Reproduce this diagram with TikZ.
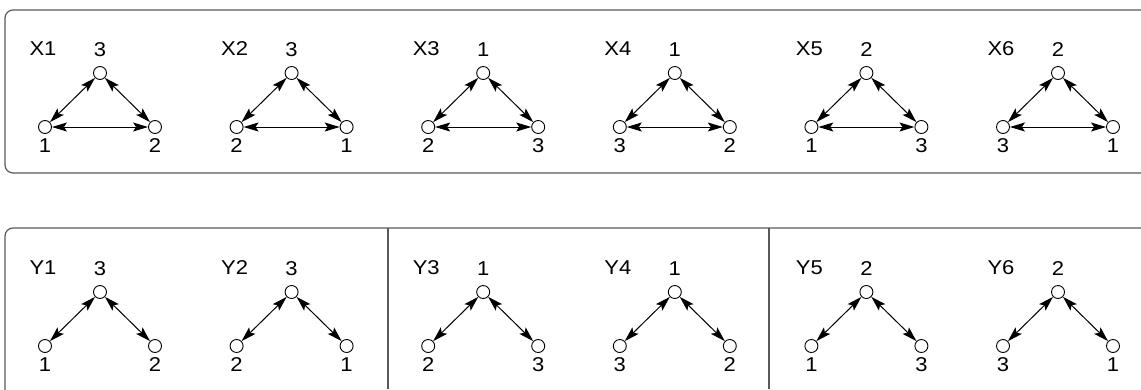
\documentclass[tikz,border=0pt]{standalone}
\usepackage{fontspec}
\setmainfont{Liberation Sans}[FakeStretch=1.1]
\usetikzlibrary{arrows.meta}
\tikzset{
  vtx/.style={circle,draw=black,line width=0.9pt,minimum size=13pt,inner sep=0pt,fill=white},
  lbl/.style={font=\fontsize{20}{22}\selectfont,inner sep=0pt},
  tip/.style={Stealth[length=15pt,width=9pt,inset=3pt]},
  edge/.style={{Stealth[length=15pt,width=9pt,inset=3pt]}-{Stealth[length=15pt,width=9pt,inset=3pt]},line width=1pt},
  frame/.style={draw=black!65,line width=1.2pt,rounded corners=8pt}
}
\newcommand{\panel}[7]{% #1 name, #2 x of top, #3 y of top, #4 top label, #5 left label, #6 right label, #7 title
  \node[vtx] (#1t) at (#2,#3) {};
  \node[vtx] (#1l) at (#2-55,#3+54) {};
  \node[vtx] (#1r) at (#2+55,#3+54) {};
  \node[lbl] (#1tl) at (#2,#3-23) {#4};
  \node[lbl] (#1ll) at (#2-55,#3+73) {#5};
  \node[lbl] (#1rl) at (#2+55,#3+73) {#6};
  \node[lbl] (#1ttl) at (#2-57,#3-24) {#7};
  \draw[edge] (#1l) -- (#1t);
  \draw[edge] (#1t) -- (#1r);
}
\begin{document}
\begin{tikzpicture}[x=1pt,y=-1pt]
\useasboundingbox (0,0) rectangle (1141,389);
\clip (0,0) rectangle (1141,389);
\draw[frame] (5,10) rectangle (1160,173);
\draw[frame] (5,228) rectangle (1160,400);
\draw[draw=black!65,line width=1.2pt] (388,228) -- (388,389);
\draw[draw=black!65,line width=1.2pt] (769,228) -- (769,389);
% top row
\panel{a}{100}{73}{3}{1}{2}{X1}
\panel{b}{291.6}{73}{3}{2}{1}{X2}
\panel{c}{483.2}{73}{1}{2}{3}{X3}
\panel{d}{674.8}{73}{1}{3}{2}{X4}
\panel{e}{866.4}{73}{2}{1}{3}{X5}
\panel{f}{1058}{73}{2}{3}{1}{X6}
\draw[edge] (al) -- (ar);
\draw[edge] (bl) -- (br);
\draw[edge] (cl) -- (cr);
\draw[edge] (dl) -- (dr);
\draw[edge] (el) -- (er);
\draw[edge] (fl) -- (fr);
% bottom row
\panel{g}{100}{292}{3}{1}{2}{Y1}
\panel{h}{291.6}{292}{3}{2}{1}{Y2}
\panel{i}{483.2}{292}{1}{2}{3}{Y3}
\panel{j}{674.8}{292}{1}{3}{2}{Y4}
\panel{k}{866.4}{292}{2}{1}{3}{Y5}
\panel{m}{1058}{292}{2}{3}{1}{Y6}
\end{tikzpicture}
\end{document}
